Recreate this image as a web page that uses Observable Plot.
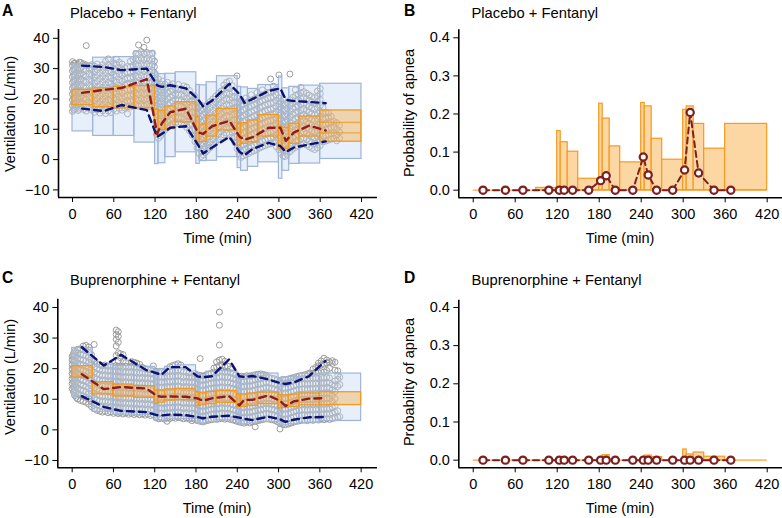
<!DOCTYPE html>
<html><head><meta charset="utf-8">
<script src="https://cdn.jsdelivr.net/npm/d3@7"></script>
<script src="https://cdn.jsdelivr.net/npm/@observablehq/plot@0.6"></script>
<style>
html,body{margin:0;padding:0;background:#fff;}
#wrap{position:relative;width:782px;height:518px;overflow:hidden;font-family:"Liberation Sans",Arial,Helvetica,sans-serif;}
#wrap svg{position:absolute;}
</style></head><body>
<div id="wrap">
<svg id="txt" width="782" height="518" style="left:0;top:0;z-index:5;pointer-events:none;overflow:visible" font-family="Liberation Sans, Arial, Helvetica, sans-serif" fill="#000">
  <text class="big" x="2" y="15.5" font-weight="bold">A</text>
  <text class="ttl" id="probe" x="70" y="17.5">Placebo + Fentanyl</text>
  <text class="big" x="404" y="15.5" font-weight="bold">B</text>
  <text class="ttl" x="471.5" y="17.5">Placebo + Fentanyl</text>
  <text class="big" x="2" y="283" font-weight="bold">C</text>
  <text class="ttl" x="70" y="285">Buprenorphine + Fentanyl</text>
  <text class="big" x="404" y="283" font-weight="bold">D</text>
  <text class="ttl" x="471.5" y="285">Buprenorphine + Fentanyl</text>
  <text class="lab" x="217.5" y="243" text-anchor="middle">Time (min)</text>
  <text class="lab" x="620" y="243" text-anchor="middle">Time (min)</text>
  <text class="lab" x="217" y="513" text-anchor="middle">Time (min)</text>
  <text class="lab" x="620" y="513" text-anchor="middle">Time (min)</text>
  <text class="lab" transform="translate(15,114) rotate(-90)" text-anchor="middle">Ventilation (L/min)</text>
  <text class="lab" transform="translate(15,377) rotate(-90)" text-anchor="middle">Ventilation (L/min)</text>
  <text class="lab" transform="translate(414,113) rotate(-90)" text-anchor="middle">Probability of apnea</text>
  <text class="lab" transform="translate(414,382) rotate(-90)" text-anchor="middle">Probability of apnea</text>
</svg>
</div>
<script>
// ---------- data ----------
const xTicks = [0, 60, 120, 180, 240, 300, 360, 420];
const ventTicks = [-10, 0, 10, 20, 30, 40];
const probTicks = [0, 0.1, 0.2, 0.3, 0.4];

const binStart = [0,30,60,90,120,125,135,150,180,185,195,210,240,245,255,270,300,305,315,330,360];
const binEnd   = [30,60,90,120,125,135,150,180,185,195,210,240,245,255,270,300,305,315,330,360,420];
const binTime  = [14,46,71,108,123,130,142,165,182,190,203,228,243,250,262,285,302,310,322,344,368];

// Panel A: Placebo + Fentanyl, ventilation
const blueLoA = [9.3,7.8,7.8,5.6,-1.5,-1.2,0.8,2.4,-1.4,-0.5,-0.4,0.8,-2.8,-3.7,-2.4,-0.9,-6.3,-3.7,-1.4,-1.3,0.2];
const blueHiA = [31.5,33.6,33.8,35.6,28.7,28.2,28.3,28.8,24.6,24.5,25.5,27.5,24.0,23.8,23.3,24.6,27.4,23.5,24.0,24.4,25.0];
const orangeLoA = [18.0,17.3,16.9,16.9,8.0,9.8,10.1,12.3,5.7,5.8,7.6,9.6,4.6,5.2,5.7,7.6,3.5,3.6,5.2,7.6,5.9];
const orangeHiA = [23.0,23.5,24.0,24.3,16.5,16.0,17.5,18.9,14.0,11.5,14.5,16.7,11.8,12.0,12.9,14.7,10.9,10.5,11.8,14.2,16.2];
const innerBinA = 20;
const innerValsA = [8.8, 12.3];
const medA = [22,23,23.6,26.5,8.5,12,15.6,16.8,9,8.5,11,12.8,7.5,6.6,7.4,10.5,10.5,6.2,9,11.2,9.6];
const loA  = [16.8,16,18,16.3,7.5,8.5,10.5,11,5,2,4,7.5,2.5,1.5,3.5,5.5,4.5,2.5,4,5,6];
const hiA  = [31,30.5,29.5,30,24.5,24,24.5,23.5,20,17.5,19.5,25,21.5,18.7,20,22.6,23.5,19.7,19.3,19,18.6];
const obsA = [
[0,15.9,17.8,19.7,21.6,23.5,25.4,27.3,29.2,31.1,32.3],
[2,16.4,18.3,20.2,22.1,24.0,25.9,27.8,29.7,31.7],
[4,16.8,18.7,20.6,22.5,24.4,26.3,28.2,30.1,31.8],
[6,17.3,19.2,21.1,23.0,24.9,26.8,28.7,30.6],
[8,16.2,18.1,20.0,21.9,23.8,25.7,27.6,29.5,31.4],
[10,16.6,18.5,20.4,22.3,24.2,26.1,28.0,29.9,32.1],
[12,17.1,19.0,20.9,22.8,24.7,26.6,28.5,30.4,32.0],
[16,16.5,18.4,20.3,22.2,24.1,26.0,27.9,29.8,31.6],
[20,16.0,17.9,19.8,21.7,23.6,25.5,27.4,29.3,31.2,37.6],
[24,16.9,18.8,20.7,22.6,24.5,26.4,28.3,30.2],
[28,16.3,18.2,20.1,22.0,23.9,25.8,27.7,29.6,31.3],
[32,15.6,17.5,19.4,21.3,23.2,25.1,27.0,28.9,30.8],
[36,16.4,18.3,20.2,22.1,24.0,25.9,27.8,29.7,31.5],
[40,15.3,17.2,19.1,21.0,22.9,24.8,26.7,28.6,30.5],
[44,16.1,18.0,19.9,21.8,23.7,25.6,27.5,29.4,31.3],
[48,15.2,17.1,19.0,20.9,22.8,24.7,26.6,28.5,30.4,32.4],
[52,16.0,17.9,19.8,21.7,23.6,25.5,27.4,29.3,31.2,33.2],
[56,15.5,17.4,19.3,21.2,23.1,25.0,26.9,28.8,30.7],
[60,16.6,18.5,20.4,22.3,24.2,26.1,28.0,29.9,31.8],
[64,16.0,17.9,19.8,21.7,23.6,25.5,27.4,29.3,31.2,33.1],
[68,16.9,18.8,20.7,22.6,24.5,26.4,28.3,30.2,32.1],
[72,16.3,18.2,20.1,22.0,23.9,25.8,27.7,29.6,31.5],
[76,17.0,18.9,20.8,22.7,24.6,26.5,28.4,30.3],
[80,15.1,17.4,19.3,21.2,23.1,25.0,26.9,28.8,30.7],
[84,17.3,19.2,21.1,23.0,24.9,26.8,28.7,30.6,32.4],
[88,17.8,19.7,21.6,23.5,25.4,27.3,29.2,31.1,33.0],
[92,18.1,20.0,21.9,23.8,25.7,27.6,29.5,31.4,33.3,35.0],
[96,17.6,19.5,21.4,23.3,25.2,27.1,29.0,30.9,32.8,34.7,37.8],
[100,18.3,20.2,22.1,24.0,25.9,27.8,29.7,31.6,33.5,35.6],
[104,17.7,19.6,21.5,23.4,25.3,27.2,29.1,31.0,32.9,34.8,37.0],
[108,18.2,20.1,22.0,23.9,25.8,27.7,29.6,31.5,33.4,35.3,39.4],
[112,17.5,19.4,21.3,23.2,25.1,27.0,28.9,30.8,32.7,34.6],
[116,18.0,19.9,21.8,23.7,25.6,27.5,29.4,31.3,33.2,35.1],
[119,17.3,19.2,21.1,23.0,24.9,26.8,28.7,30.6,32.5],
[122,8.3,10.2,12.1,14.0,15.9,17.8,19.7,21.6,23.5,25.4],
[125,7.0,8.9,10.8,12.7,14.6,16.5,18.4,20.3,22.2,24.1,26.6],
[128,7.8,9.7,11.6,13.5,15.4,17.3,19.2,21.1,23.0,24.9],
[131,8.8,10.7,12.6,14.5,16.4,18.3,20.2,22.1,24.0,25.9],
[134,9.7,11.6,13.5,15.4,17.3,19.2,21.1,23.0,24.9],
[138,10.5,12.4,14.3,16.2,18.1,20.0,21.9,23.8,25.5],
[142,11.1,13.0,14.9,16.8,18.7,20.6,22.5,24.4],
[146,11.7,13.6,15.5,17.4,19.3,21.2,23.1,25.0],
[150,12.2,14.1,16.0,17.9,19.8,21.7,23.6],
[154,11.8,13.7,15.6,17.5,19.4,21.3,23.2,24.8],
[158,12.0,13.9,15.8,17.7,19.6,21.5,23.4],
[162,11.4,13.3,15.2,17.1,19.0,20.9,22.8,24.3],
[166,10.6,12.5,14.4,16.3,18.2,20.1,22.0,23.9],
[170,9.5,11.4,13.3,15.2,17.1,19.0,20.9,22.8],
[174,8.0,9.9,11.8,13.7,15.6,17.5,19.4,21.3],
[178,5.9,7.8,9.7,11.6,13.5,15.4,17.3,19.2,20.8],
[181,3.9,5.8,7.7,9.6,11.5,13.4,15.3,17.2,19.1],
[184,2.1,4.0,5.9,7.8,9.7,11.6,13.5,15.4,17.3],
[187,1.0,2.9,4.8,6.7,8.6,10.5,12.4,14.3,16.2,18.0],
[190,1.5,3.4,5.3,7.2,9.1,11.0,12.9,14.8,16.7],
[193,2.3,4.2,6.1,8.0,9.9,11.8,13.7,15.6,17.5],
[196,3.0,4.9,6.8,8.7,10.6,12.5,14.4,16.3,18.2],
[200,3.9,5.8,7.7,9.6,11.5,13.4,15.3,17.2,19.1],
[204,4.8,6.7,8.6,10.5,12.4,14.3,16.2,18.1,20.0],
[208,5.7,7.6,9.5,11.4,13.3,15.2,17.1,19.0,20.9],
[212,6.6,8.5,10.4,12.3,14.2,16.1,18.0,19.9,21.8],
[216,7.4,9.3,11.2,13.1,15.0,16.9,18.8,20.7,22.6],
[220,8.1,10.0,11.9,13.8,15.7,17.6,19.5,21.4,23.3,24.6],
[224,8.7,10.6,12.5,14.4,16.3,18.2,20.1,22.0,23.9,25.5],
[228,8.3,10.2,12.1,14.0,15.9,17.8,19.7,21.6,23.5,25.9],
[232,7.2,9.1,11.0,12.9,14.8,16.7,18.6,20.5,22.4,24.4],
[236,5.6,7.5,9.4,11.3,13.2,15.1,17.0,18.9,20.8,22.5],
[239,3.6,5.5,7.4,9.3,11.2,13.1,15.0,16.9,18.8,20.4,27.6],
[242,1.8,3.7,5.6,7.5,9.4,11.3,13.2,15.1,17.0,18.9],
[245,0.7,2.6,4.5,6.4,8.3,10.2,12.1,14.0,15.9,17.8,19.6],
[248,1.2,3.1,5.0,6.9,8.8,10.7,12.6,14.5,16.4,18.3],
[252,1.6,3.5,5.4,7.3,9.2,11.1,13.0,14.9,16.8,18.7,20.3],
[256,2.0,3.9,5.8,7.7,9.6,11.5,13.4,15.3,17.2,19.1],
[260,2.5,4.4,6.3,8.2,10.1,12.0,13.9,15.8,17.7,19.6,21.4],
[264,2.9,4.8,6.7,8.6,10.5,12.4,14.3,16.2,18.1,20.0],
[268,3.3,5.2,7.1,9.0,10.9,12.8,14.7,16.6,18.5,20.4,22.1],
[272,3.8,5.7,7.6,9.5,11.4,13.3,15.2,17.1,19.0,20.9],
[276,4.2,6.1,8.0,9.9,11.8,13.7,15.6,17.5,19.4,21.3,23.0],
[280,4.6,6.5,8.4,10.3,12.2,14.1,16.0,17.9,19.8,21.7],
[284,5.0,6.9,8.8,10.7,12.6,14.5,16.4,18.3,20.2,22.1,23.8],
[288,5.2,7.1,9.0,10.9,12.8,14.7,16.6,18.5,20.4,22.3,26.6],
[292,5.5,7.4,9.3,11.2,13.1,15.0,16.9,18.8,20.7,22.6,24.2],
[296,4.3,6.2,8.1,10.0,11.9,13.8,15.7,17.6,19.5,21.4,23.3],
[300,3.2,5.1,7.0,8.9,10.8,12.7,14.6,16.5,18.4,20.3,27.9],
[303,2.1,4.0,5.9,7.8,9.7,11.6,13.5,15.4,17.3,19.2],
[306,1.2,3.1,5.0,6.9,8.8,10.7,12.6,14.5,16.4,18.3,20.0],
[309,1.0,2.9,4.8,6.7,8.6,10.5,12.4,14.3,16.2,18.1],
[312,1.7,3.6,5.5,7.4,9.3,11.2,13.1,15.0,16.9,18.8],
[316,2.6,4.5,6.4,8.3,10.2,12.1,14.0,15.9,17.8,19.7,28.2],
[320,3.4,5.3,7.2,9.1,11.0,12.9,14.8,16.7,18.6,20.5],
[324,4.0,5.9,7.8,9.7,11.6,13.5,15.4,17.3,19.2,21.1,23.0],
[328,4.5,6.4,8.3,10.2,12.1,14.0,15.9,17.8,19.7,21.6],
[332,4.9,6.8,8.7,10.6,12.5,14.4,16.3,18.2,20.1,22.0,23.8],
[336,5.3,7.2,9.1,11.0,12.9,14.8,16.7,18.6,20.5,22.4],
[340,4.8,6.7,8.6,10.5,12.4,14.3,16.2,18.1,20.0,21.9],
[344,4.2,6.1,8.0,9.9,11.8,13.7,15.6,17.5,19.4,21.3],
[348,3.7,5.6,7.5,9.4,11.3,13.2,15.1,17.0,18.9,20.8],
[352,3.3,5.2,7.1,9.0,10.9,12.8,14.7,16.6,18.5,20.4],
[356,3.9,5.8,7.7,9.6,11.5,13.4,15.3,17.2,19.1,21.0,22.6],
[360,4.6,6.5,8.4,10.3,12.2,14.1,16.0,17.9,19.8,21.7,23.4],
[364,5.8,7.7,9.6,11.5,13.4,15.3,17.2],
[368,6.1,8.0,9.9,11.8,13.7,15.6],
[372,6.4,8.3,10.2,12.1,14.0,15.4],
[376,6.7,8.6,10.5,12.4,14.2],
[380,6.9,8.8,10.7,12.6],
[384,6.2,8.1,10.0,12.2],
[388,7.0,9.1,11.3]
];

// Panel C: Buprenorphine + Fentanyl, ventilation
const blueLoC = [10.8,5.9,5.0,4.8,3.1,3.1,3.5,3.5,2.1,2.1,2.6,3.1,2.1,1.8,2.1,2.6,1.5,1.5,1.8,2.3,2.9];
const blueHiC = [26.8,21.3,20.9,20.6,19.5,19.9,20.6,21.1,18.4,17.8,19.0,19.2,17.6,17.6,18.0,18.4,16.8,17.1,17.3,18.3,18.4];
const orangeLoC = [17.1,11.6,10.9,10.5,8.5,8.9,9.6,9.7,7.8,8.0,8.4,8.8,7.5,7.5,7.8,8.4,7.0,7.2,7.5,8.0,8.1];
const orangeHiC = [20.8,15.6,14.8,14.3,12.8,12.8,13.2,13.4,12.3,12.1,12.4,12.7,11.5,11.6,11.9,12.2,11.3,11.3,11.5,11.9,12.3];
const medC = [18.2,13.3,14,13.5,11.1,10.8,10.9,10.8,10.3,9.5,10.3,11,8,9.8,9.8,11.2,9.5,7.8,9.3,10.2,10.4];
const loC  = [11,7.5,6.2,5.8,4.8,4.7,5,4.8,4.2,3.8,4.3,4.6,4,3.6,3.2,4.3,3.5,2.6,3.3,4.1,4.2];
const hiC  = [27,21,24.5,19.5,18.5,18,20.5,20.5,17.5,17.2,17.5,23,17.5,17.3,17.6,16.5,15.3,15,15.5,17.5,22.5];
const obsC = [
[0,13.5,15.2,16.8,18.4,19.9,21.3,22.8,24.0],
[2,12.4,14.0,15.7,17.3,19.0,20.6,22.2,23.9,25.0],
[4,11.2,12.9,14.6,16.3,17.9,19.5,21.0,22.6,24.3,25.7],
[6,10.6,12.2,13.9,15.6,17.2,18.8,20.4,22.1,23.8,25.4],
[8,10.1,11.8,13.5,15.2,16.9,18.5,20.1,21.8,23.4,25.1,26.3],
[12,9.6,11.4,13.1,14.8,16.4,18.1,19.7,21.4,23.0,24.7,26.5],
[16,9.3,11.0,12.8,14.5,16.1,17.8,19.4,21.1,22.8,24.5,26.2,27.4],
[20,9.0,10.7,12.4,14.1,15.8,17.5,19.1,20.8,22.5,24.2,25.9,27.6],
[24,8.4,10.1,11.8,13.5,15.2,16.9,18.6,20.3,22.0,23.7,25.4,27.1],
[28,7.6,9.3,11.0,12.7,14.4,16.1,17.8,19.5,21.2,22.9,24.6],
[32,6.9,8.6,10.3,12.0,13.7,15.4,17.1,18.8,20.5,22.3,27.9],
[36,6.4,8.1,9.8,11.5,13.2,14.9,16.6,18.3,20.0,21.6],
[40,6.1,7.8,9.5,11.2,12.9,14.6,16.3,18.0,19.7,21.3],
[44,5.8,7.5,9.2,10.9,12.6,14.3,16.0,17.7,19.4,20.9],
[48,6.0,7.7,9.4,11.1,12.8,14.5,16.2,17.9,19.6,21.2],
[52,5.6,7.3,9.0,10.7,12.4,14.1,15.8,17.5,19.2,20.8],
[56,5.9,7.6,9.3,11.0,12.7,14.4,16.1,17.8,19.5,21.1],
[60,5.4,7.1,8.8,10.5,12.2,13.9,15.6,17.3,19.0,20.7],
[64,5.7,7.4,9.1,10.8,12.5,14.2,15.9,17.6,19.3,21.0,24.3,27.4,29.6,31.2,32.6],
[67,5.3,7.0,8.7,10.4,12.1,13.8,15.5,17.2,18.9,20.6,22.5,25.2,28.6,30.5,32.1],
[70,5.6,7.3,9.0,10.7,12.4,14.1,15.8,17.5,19.2,20.9,23.6,24.9],
[74,5.2,6.9,8.6,10.3,12.0,13.7,15.4,17.1,18.8,20.5,22.4,24.6],
[78,5.5,7.2,8.9,10.6,12.3,14.0,15.7,17.4,19.1,20.8,22.0],
[82,5.1,6.8,8.5,10.2,11.9,13.6,15.3,17.0,18.7,20.4],
[86,5.4,7.1,8.8,10.5,12.2,13.9,15.6,17.3,19.0,20.7,22.3],
[90,5.0,6.7,8.4,10.1,11.8,13.5,15.2,16.9,18.6,20.3,22.1],
[94,5.3,7.0,8.7,10.4,12.1,13.8,15.5,17.2,18.9,20.6,21.8],
[98,4.9,6.6,8.3,10.0,11.7,13.4,15.1,16.8,18.5,20.2,21.4],
[102,5.2,6.9,8.6,10.3,12.0,13.7,15.4,17.1,18.8,20.4],
[106,4.8,6.5,8.2,9.9,11.6,13.3,15.0,16.7,18.4,20.0],
[110,5.1,6.8,8.5,10.2,11.9,13.6,15.3,17.0,18.7,19.8],
[114,4.7,6.4,8.1,9.8,11.5,13.2,14.9,16.6,18.3,19.6],
[118,4.9,6.6,8.3,10.0,11.7,13.4,15.1,16.8,18.5,20.9],
[122,3.9,5.6,7.3,9.0,10.7,12.4,14.1,15.8,17.5,19.1],
[126,3.6,5.3,7.0,8.7,10.4,12.1,13.8,15.5,17.2,18.9],
[130,3.8,5.5,7.2,8.9,10.6,12.3,14.0,15.7,17.4,19.0],
[134,3.5,5.2,6.9,8.6,10.3,12.0,13.7,15.4,17.1,18.8],
[138,2.8,3.9,5.6,7.3,9.0,10.7,12.4,14.1,15.8,17.5,19.3],
[142,3.7,5.4,7.1,8.8,10.5,12.2,13.9,15.6,17.3,19.2,20.6],
[146,4.0,5.7,7.4,9.1,10.8,12.5,14.2,15.9,17.6,19.4,21.0],
[150,3.8,5.5,7.2,8.9,10.6,12.3,14.0,15.7,17.4,19.2,21.3],
[154,4.1,5.8,7.5,9.2,10.9,12.6,14.3,16.0,17.7,19.5,21.6],
[158,3.9,5.6,7.3,9.0,10.7,12.4,14.1,15.8,17.5,19.3,21.2],
[162,3.6,5.3,7.0,8.7,10.4,12.1,13.8,15.5,17.2,19.0],
[166,3.9,5.6,7.3,9.0,10.7,12.4,14.1,15.8,17.5,18.9],
[170,3.5,5.2,6.9,8.6,10.3,12.0,13.7,15.4,17.1,18.6],
[174,3.0,3.8,5.5,7.2,8.9,10.6,12.3,14.0,15.7,17.4],
[178,3.4,5.1,6.8,8.5,10.2,11.9,13.6,15.3,17.0,18.4],
[182,3.0,4.7,6.4,8.1,9.8,11.5,13.2,14.9,16.6,18.0],
[186,2.8,4.5,6.2,7.9,9.6,11.3,13.0,14.7,16.4,17.8,23.3],
[190,2.6,4.3,6.0,7.7,9.4,11.1,12.8,14.5,16.2,17.6],
[194,2.9,4.6,6.3,8.0,9.7,11.4,13.1,14.8,16.5,17.9],
[198,3.1,4.8,6.5,8.2,9.9,11.6,13.3,15.0,16.7,18.2],
[202,3.3,5.0,6.7,8.4,10.1,11.8,13.5,15.2,16.9,18.5],
[206,3.5,5.2,6.9,8.6,10.3,12.0,13.7,15.4,17.1,18.9,20.2],
[210,3.4,5.1,6.8,8.5,10.2,11.9,13.6,15.3,17.0,18.8,20.6,22.2],
[214,3.6,5.3,7.0,8.7,10.4,12.1,13.8,15.5,17.2,19.0,20.9,22.8,27.7,34.2,38.5],
[218,3.8,5.5,7.2,8.9,10.6,12.3,14.0,15.7,17.4,19.2,21.1,23.1],
[222,3.5,5.2,6.9,8.6,10.3,12.0,13.7,15.4,17.1,18.9,20.7,22.4],
[226,3.7,5.4,7.1,8.8,10.5,12.2,13.9,15.6,17.3,19.1,20.8],
[230,3.4,5.1,6.8,8.5,10.2,11.9,13.6,15.3,17.0,18.7,19.9],
[234,3.2,4.9,6.6,8.3,10.0,11.7,13.4,15.1,16.8,18.4],
[238,2.9,4.6,6.3,8.0,9.7,11.4,13.1,14.8,16.5,18.0],
[242,2.6,4.3,6.0,7.7,9.4,11.1,12.8,14.5,16.2,17.6],
[246,2.4,4.1,5.8,7.5,9.2,10.9,12.6,14.3,16.0,17.5],
[250,2.2,3.9,5.6,7.3,9.0,10.7,12.4,14.1,15.8,17.4],
[254,2.5,4.2,5.9,7.6,9.3,11.0,12.7,14.4,16.1,17.7],
[258,2.3,4.0,5.7,7.4,9.1,10.8,12.5,14.2,15.9,17.6],
[262,2.6,4.3,6.0,7.7,9.4,11.1,12.8,14.5,16.2,17.8],
[266,1.0,2.8,4.5,6.2,7.9,9.6,11.3,13.0,14.7,16.4,18.0],
[270,3.0,4.7,6.4,8.1,9.8,11.5,13.2,14.9,16.6,18.2],
[274,3.2,4.9,6.6,8.3,10.0,11.7,13.4,15.1,16.8,18.3],
[278,3.4,5.1,6.8,8.5,10.2,11.9,13.6,15.3,17.0,18.1],
[282,3.6,5.3,7.0,8.7,10.4,12.1,13.8,15.5,17.2,17.9],
[286,3.5,5.2,6.9,8.6,10.3,12.0,13.7,15.4,17.1],
[290,3.3,5.0,6.7,8.4,10.1,11.8,13.5,15.2,16.9],
[294,3.1,4.8,6.5,8.2,9.9,11.6,13.3,15.0,16.7],
[298,2.7,4.4,6.1,7.8,9.5,11.2,12.9,14.6,16.3],
[302,0.3,2.1,3.8,5.5,7.2,8.9,10.6,12.3,14.0,15.7],
[306,1.8,3.5,5.2,6.9,8.6,10.3,12.0,13.7,15.4,16.5],
[310,1.7,3.4,5.1,6.8,8.5,10.2,11.9,13.6,15.3,16.4],
[314,1.9,3.6,5.3,7.0,8.7,10.4,12.1,13.8,15.5,16.6],
[318,2.2,3.9,5.6,7.3,9.0,10.7,12.4,14.1,15.8,16.9],
[322,2.5,4.2,5.9,7.6,9.3,11.0,12.7,14.4,16.1,17.1],
[326,2.8,4.5,6.2,7.9,9.6,11.3,13.0,14.7,16.4,17.4],
[330,3.0,4.7,6.4,8.1,9.8,11.5,13.2,14.9,16.6,17.6],
[334,3.1,4.8,6.5,8.2,9.9,11.6,13.3,15.0,16.7,17.8],
[338,3.2,4.9,6.6,8.3,10.0,11.7,13.4,15.1,16.8,18.0],
[342,3.0,4.7,6.4,8.1,9.8,11.5,13.2,14.9,16.6,18.3],
[346,3.3,5.0,6.7,8.4,10.1,11.8,13.5,15.2,16.9,18.6],
[350,3.1,4.8,6.5,8.2,9.9,11.6,13.3,15.0,16.7,18.5,19.8],
[354,3.4,5.1,6.8,8.5,10.2,11.9,13.6,15.3,17.0,18.8,20.4],
[358,3.2,4.9,6.6,8.3,10.0,11.7,13.4,15.1,16.8,18.7,20.9,21.8],
[362,3.5,5.2,6.9,8.6,10.3,12.0,13.7,15.4,17.1,19.0,21.2,22.5],
[366,3.3,5.0,6.7,8.4,10.1,11.8,13.5,15.2,16.9,18.9,21.5,23.4],
[370,3.6,5.3,7.0,8.7,10.4,12.1,13.8,15.5,17.2,19.4,21.9,22.8],
[374,3.4,5.1,6.8,8.5,10.2,11.9,13.6,15.3,17.0,20.1,22.2],
[378,3.7,5.5,7.4,9.3,11.2,13.0,14.8,21.7,22.6],
[382,3.9,5.8,7.9,10.2,12.5,14.6,16.0,19.5,22.1],
[386,4.1,6.2,14.2,16.5,17.8,19.3],
[389,4.3,14.8,17.2]
];

// Panel B / D: probability of apnea
const simProbB = [0,0,0,0.006,0.155,0.126,0.101,0.030,0.227,0.188,0.115,0.073,0.229,0.220,0.135,0.080,0.211,0.220,0.174,0.109,0.174];
const obsProbB = [0,0,0,0,0,0,0,0,0.025,0.038,0,0,0.087,0.040,0,0,0.053,0.204,0.045,0,0];
const simProbD = [0,0,0,0,0,0,0,0,0.004,0.013,0,0,0.003,0.012,0.008,0,0.028,0.015,0.020,0.009,0];
const obsProbD = [0,0,0,0,0,0,0,0,0,0,0,0,0,0,0,0,0,0,0,0,0];

// ---------- typography ----------
const FONT = '"Liberation Sans", Arial, Helvetica, sans-serif';
let FS = 14.7;
function setTextSizes(fs) {
  document.querySelectorAll("#txt text.ttl").forEach(t => t.setAttribute("font-size", fs));
  document.querySelectorAll("#txt text.lab").forEach(t => t.setAttribute("font-size", fs * 0.985));
  document.querySelectorAll("#txt text.big").forEach(t => t.setAttribute("font-size", fs * 1.06));
}
setTextSizes(FS);
// fit to the width the panel title occupies in the figure (about 126.5 px)
try {
  const len = document.getElementById("probe").getComputedTextLength();
  if (len > 20) FS = Math.max(12.5, Math.min(18, FS * 126.5 / len));
} catch (e) {}
setTextSizes(FS);

// ---------- drawing ----------
const fmtMinus = d => d < 0 ? "\u2212" + Math.abs(d) : String(d);
const wrap = document.getElementById("wrap");

function place(svg, left, top) {
  svg.style.position = "absolute";
  svg.style.left = left + "px";
  svg.style.top = top + "px";
  wrap.insertBefore(svg, document.getElementById("txt"));
}

function axisLines(xd, yd) {
  return [
    Plot.ruleX([xd[0]], {stroke: "#000", strokeWidth: 1.6}),
    Plot.ruleY([yd[0]], {stroke: "#000", strokeWidth: 1.6})
  ];
}

const baseStyle = {fontFamily: FONT, fontSize: (FS * 0.985) + "px", color: "#000", background: "transparent", overflow: "visible"};

function ventPanel(c) {
  const bins = binStart.map((s, i) => ({x1: s, x2: binEnd[i], blo: c.blueLo[i], bhi: c.blueHi[i], olo: c.orLo[i], ohi: c.orHi[i]}));
  const pc = binTime.map((t, i) => ({t, lo: c.lo[i], med: c.med[i], hi: c.hi[i]}));
  const pts = c.obs.flatMap(r => r.slice(1).map(v => ({t: r[0], v})));
  const marks = [
    Plot.dot(pts, {x: "t", y: "v", r: 3, fill: "none", stroke: "#9c9c9c", strokeWidth: 1}),
    Plot.rect(bins, {x1: "x1", x2: "x2", y1: "blo", y2: "bhi", fill: "#c3d8f3", fillOpacity: 0.42, stroke: "#9fb5d8", strokeWidth: 1.2}),
    Plot.rect(bins, {x1: "x1", x2: "x2", y1: "olo", y2: "ohi", fill: "#fbac4c", fillOpacity: 0.42, stroke: "#f39a1f", strokeWidth: 1.3})
  ];
  if (c.inner) {
    marks.push(Plot.ruleY(c.inner.vals, {y: d => d, x1: binStart[c.inner.bin], x2: binEnd[c.inner.bin], stroke: "#f39a1f", strokeWidth: 1}));
  }
  marks.push(
    Plot.line(pc, {x: "t", y: "lo", stroke: "#0c1273", strokeWidth: 2.4, strokeDasharray: "7,5"}),
    Plot.line(pc, {x: "t", y: "hi", stroke: "#0c1273", strokeWidth: 2.4, strokeDasharray: "7,5"}),
    Plot.line(pc, {x: "t", y: "med", stroke: "#8e1c1c", strokeWidth: 2.4, strokeDasharray: "7,5"}),
    ...axisLines(c.xd, c.yd)
  );
  return Plot.plot({
    width: c.w, height: c.h,
    marginLeft: c.ml, marginRight: c.mr, marginTop: c.mt, marginBottom: c.mb,
    style: baseStyle,
    x: {domain: c.xd, ticks: xTicks, tickSize: 5, tickPadding: 6, label: null},
    y: {domain: c.yd, ticks: ventTicks, tickSize: 5, tickPadding: 4, label: null, tickFormat: fmtMinus},
    marks
  });
}

function probPanel(c) {
  const bars = binStart.map((s, i) => ({x1: s, x2: binEnd[i], p: c.sim[i]})).filter(d => d.p > 0);
  const pts = binTime.map((t, i) => ({t, p: c.obs[i]}));
  return Plot.plot({
    width: c.w, height: c.h,
    marginLeft: c.ml, marginRight: c.mr, marginTop: c.mt, marginBottom: c.mb,
    style: baseStyle,
    x: {domain: c.xd, ticks: xTicks, tickSize: 5, tickPadding: 6, label: null},
    y: {domain: c.yd, ticks: probTicks, tickSize: 5, tickPadding: 4, label: null, tickFormat: d3.format(".1f")},
    marks: [
      Plot.ruleY([0], {x1: binStart[0], x2: binEnd[binEnd.length - 1], stroke: "#fbbd6c", strokeWidth: 1.6}),
      Plot.rect(bars, {x1: "x1", x2: "x2", y1: 0, y2: "p", fill: "#fdd7a3", stroke: "#f59a1c", strokeWidth: 1.2}),
      Plot.line(pts, {x: "t", y: "p", stroke: "#7d1f1f", strokeWidth: 2, strokeDasharray: "6,4"}),
      Plot.dot(pts, {x: "t", y: "p", r: 3.6, fill: "#fff", stroke: "#7d1f1f", strokeWidth: 2.2}),
      ...axisLines(c.xd, c.yd)
    ]
  });
}

place(ventPanel({
  w: 390, h: 259, ml: 58, mr: 13, mt: 29, mb: 62,
  xd: [-20.35, 443.3], yd: [-12.5, 42.9],
  blueLo: blueLoA, blueHi: blueHiA, orLo: orangeLoA, orHi: orangeHiA,
  lo: loA, med: medA, hi: hiA, obs: obsA,
  inner: {bin: innerBinA, vals: innerValsA}
}), 0, 0);

place(probPanel({
  w: 392, h: 259, ml: 68.3, mr: 0, mt: 29.3, mb: 61.7,
  xd: [-20.6, 441.9], yd: [-0.02, 0.421],
  sim: simProbB, obs: obsProbB
}), 390, 0);

place(ventPanel({
  w: 390, h: 259, ml: 57.3, mr: 13, mt: 39.7, mb: 50.7,
  xd: [-20.9, 443.8], yd: [-12.4, 42.7],
  blueLo: blueLoC, blueHi: blueHiC, orLo: orangeLoC, orHi: orangeHiC,
  lo: loC, med: medC, hi: hiC, obs: obsC
}), 0, 259);

place(probPanel({
  w: 392, h: 259, ml: 68.3, mr: 0, mt: 40.7, mb: 50.7,
  xd: [-20.6, 441.9], yd: [-0.02, 0.419],
  sim: simProbD, obs: obsProbD
}), 390, 259);
</script>
</body></html>
